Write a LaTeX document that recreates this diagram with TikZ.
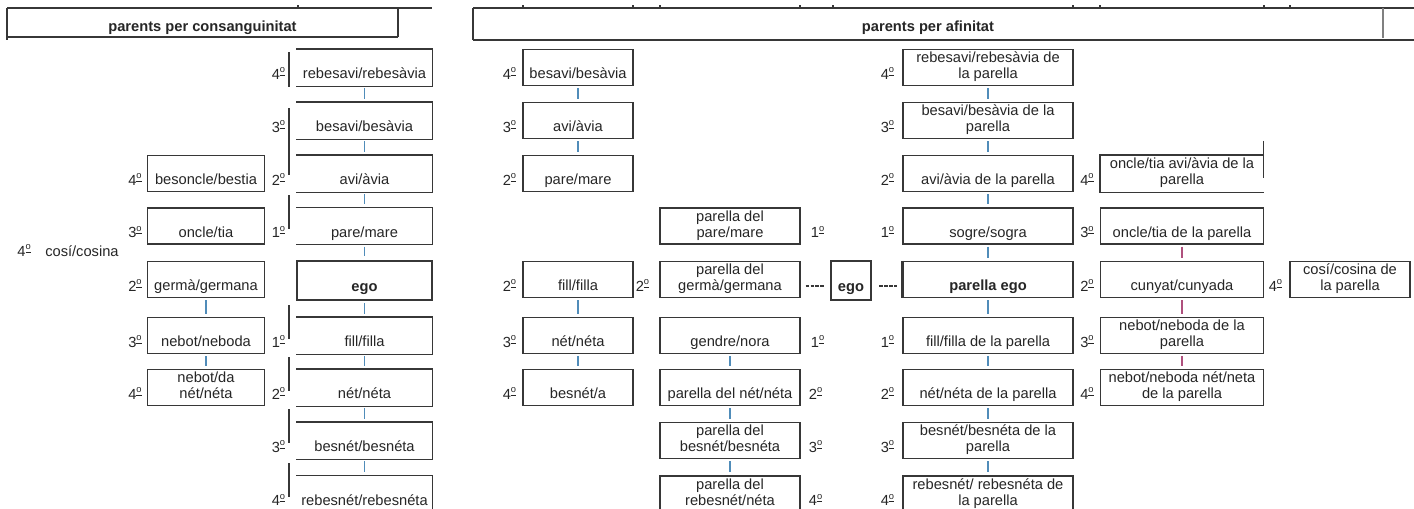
\documentclass[tikz,border=0pt]{standalone}
\usepackage{fontspec}
\setmainfont{Liberation Sans}
\usetikzlibrary{calc}

\definecolor{edgegray}{RGB}{55,55,55}
\definecolor{linkblue}{RGB}{80,140,185}
\definecolor{linkpink}{RGB}{175,80,125}

\newcommand{\one}[1]{\strut\\\strut #1}
\newcommand{\two}[2]{\strut #1\\\strut #2}
\newcommand{\ordo}{\raisebox{0.42em}{\fontsize{7}{7}\selectfont\underline{o}}}

\tikzset{
  rule/.style={draw=edgegray,line width=0.9pt},
  kin/.style={draw=edgegray,line width=0.9pt,minimum height=27pt,
    inner xsep=1pt,inner ysep=0.5pt,align=center,
    font=\fontsize{11}{12.25}\selectfont,text=black!85},
  egobox/.style={kin,line width=2.2pt,minimum height=29.25pt},
  cmain/.style={kin,draw=none,minimum width=101.25pt},
  cside/.style={kin,minimum width=87.75pt},
  aleft/.style={kin,minimum width=82.5pt},
  amid/.style={kin,minimum width=105pt},
  amain/.style={kin,minimum width=127.5pt},
  aoncle/.style={kin,minimum width=122.25pt},
  acosi/.style={kin,minimum width=90pt},
  deg/.style={anchor=base east,inner sep=0pt,font=\fontsize{11}{12.25}\selectfont,text=black!85},
  degr/.style={deg,anchor=base west},
  head/.style={anchor=base,inner sep=0pt,font=\fontsize{11}{12.25}\selectfont\bfseries,text=black!85},
  link/.style={draw=linkblue,line width=1.2pt,shorten <=1.5pt,shorten >=2.5pt},
  plink/.style={link,draw=linkpink},
  dashlink/.style={draw=edgegray,line width=0.9pt,dash pattern=on 2.8pt off 0.9pt}
}

\begin{document}
\begin{tikzpicture}[x=0.75pt,y=-0.75pt]
  \clip (0,0) rectangle (1414,508);
  \fill[white] (0,0) rectangle (1414,508);

  % headers
  \draw[rule] (7,8) -- (432,8) (7,8) -- (7,40) (398,9) -- (398,37) (7,37) -- (398,37);
  \draw[rule] (473,8) -- (1414,8) (473,8) -- (473,40) (473,40) -- (1414,40);
  \draw[rule,draw=gray] (1383,8) -- (1383,38);
  \foreach \x in {298,523,633,660,800,833,1073,1100,1264,1290}
    \draw[rule] (\x,8) -- (\x,5);
  \node[head] (hcon) at (202.5,31) {parents per consanguinitat};
  \node[head] (hafi) at (928,31) {parents per afinitat};

  % consanguinitat, line of ego
  \node[cmain] (c1) at (364.5,67.5) {\one{rebesavi/rebesàvia}};
  \node[cmain] (c2) at (364.5,120.5) {\one{besavi/besàvia}};
  \node[cmain] (c3) at (364.5,173.5) {\one{avi/àvia}};
  \node[cmain] (c4) at (364.5,226) {\one{pare/mare}};
  \node[egobox,minimum width=101.25pt] (c5) at (364.5,280.5) {\one{\textbf{ego}}};
  \node[cmain] (c6) at (364.5,335.5) {\one{fill/filla}};
  \node[cmain] (c7) at (364.5,387.5) {\one{nét/néta}};
  \node[cmain] (c8) at (364.5,440.5) {\one{besnét/besnéta}};
  \node[cmain] (c9) at (364.5,494) {\one{rebesnét/rebesnéta}};
  \foreach \n in {c1,c2,c3,c4,c6,c7,c8,c9}
    \draw[rule] (\n.north west) -- (\n.north east) -- (\n.south east) -- (\n.south west);
  \foreach \a/\b in {52/87,108/175,195/229,305/339,357/391,409/443,463/497}
    \draw[rule] (289,\a) -- (289,\b);
  \node[deg] (c1d) at ($(c1.south west)+(-11,-7)$) {4\ordo};
  \node[deg] (c2d) at ($(c2.south west)+(-11,-7)$) {3\ordo};
  \node[deg] (c3d) at ($(c3.south west)+(-11,-7)$) {2\ordo};
  \node[deg] (c4d) at ($(c4.south west)+(-11,-7)$) {1\ordo};
  \node[deg] (c6d) at ($(c6.south west)+(-11,-7)$) {1\ordo};
  \node[deg] (c7d) at ($(c7.south west)+(-11,-7)$) {2\ordo};
  \node[deg] (c8d) at ($(c8.south west)+(-11,-7)$) {3\ordo};
  \node[deg] (c9d) at ($(c9.south west)+(-11,-7)$) {4\ordo};
  \draw[link] (c1) -- (c2);
  \draw[link] (c2) -- (c3);
  \draw[link] (c3) -- (c4);
  \draw[link] (c4) -- (c5);
  \draw[link] (c5) -- (c6);
  \draw[link] (c6) -- (c7);
  \draw[link] (c7) -- (c8);
  \draw[link] (c8) -- (c9);

  % consanguinitat, side line
  \node[cside] (s3) at (206,173.5) {\one{besoncle/bestia}};
  \node[cside] (s4) at (206,226) {\one{oncle/tia}};
  \node[cside] (s5) at (206,279.5) {\one{germà/germana}};
  \node[cside] (s6) at (206,335.5) {\one{nebot/neboda}};
  \node[cside] (s7) at (206,387.5) {\two{nebot/da}{nét/néta}};
  \node[deg] (s3d) at ($(s3.south west)+(-5,-7)$) {4\ordo};
  \node[deg] (s4d) at ($(s4.south west)+(-5,-7)$) {3\ordo};
  \node[deg] (s5d) at ($(s5.south west)+(-5,-7)$) {2\ordo};
  \node[deg] (s6d) at ($(s6.south west)+(-5,-7)$) {3\ordo};
  \node[deg] (s7d) at ($(s7.south west)+(-5,-7)$) {4\ordo};
  \draw[link] (s5) -- (s6);
  \draw[link] (s6) -- (s7);
  \node[deg] (cosid) at (31,256) {4\ordo};
  \node[degr] (cosi) at (45,256) {cosí/cosina};

  % afinitat, left line
  \node[aleft] (a1) at (578,67.5) {\one{besavi/besàvia}};
  \node[aleft] (a2) at (578,120.5) {\one{avi/àvia}};
  \node[aleft] (a3) at (578,173.5) {\one{pare/mare}};
  \node[aleft] (a5) at (578,279.5) {\one{fill/filla}};
  \node[aleft] (a6) at (578,335.5) {\one{nét/néta}};
  \node[aleft] (a7) at (578,387.5) {\one{besnét/a}};
  \node[deg] (a1d) at ($(a1.south west)+(-6,-7)$) {4\ordo};
  \node[deg] (a2d) at ($(a2.south west)+(-6,-7)$) {3\ordo};
  \node[deg] (a3d) at ($(a3.south west)+(-6,-7)$) {2\ordo};
  \node[deg] (a5d) at ($(a5.south west)+(-6,-7)$) {2\ordo};
  \node[deg] (a6d) at ($(a6.south west)+(-6,-7)$) {3\ordo};
  \node[deg] (a7d) at ($(a7.south west)+(-6,-7)$) {4\ordo};
  \draw[link] (a1) -- (a2);
  \draw[link] (a2) -- (a3);
  \draw[link] (a5) -- (a6);
  \draw[link] (a6) -- (a7);

  % afinitat, middle line
  \node[amid] (m4) at (730,226) {\two{parella del}{pare/mare}};
  \node[amid] (m5) at (730,279.5) {\two{parella del}{germà/germana}};
  \node[amid] (m6) at (730,335.5) {\one{gendre/nora}};
  \node[amid] (m7) at (730,387.5) {\one{parella del nét/néta}};
  \node[amid] (m8) at (730,440.5) {\two{parella del}{besnét/besnéta}};
  \node[amid] (m9) at (730,494) {\two{parella del}{rebesnét/néta}};
  \node[deg] (m5d) at ($(m5.south west)+(-10,-7)$) {2\ordo};
  \node[degr] (m4d) at ($(m4.south east)+(10,-7)$) {1\ordo};
  \node[degr] (m6d) at ($(m6.south east)+(10,-7)$) {1\ordo};
  \node[degr] (m7d) at ($(m7.south east)+(8,-7)$) {2\ordo};
  \node[degr] (m8d) at ($(m8.south east)+(8,-7)$) {3\ordo};
  \node[degr] (m9d) at ($(m9.south east)+(8,-7)$) {4\ordo};
  \draw[link] (m6) -- (m7);
  \draw[link] (m7) -- (m8);
  \draw[link] (m8) -- (m9);

  % ego between the lines
  \node[egobox,minimum width=30pt] (e2) at (851,280.5) {\one{\textbf{ego}}};

  % afinitat, line of the parella
  \node[amain] (p1) at (988,67.5) {\two{rebesavi/rebesàvia de}{la parella}};
  \node[amain] (p2) at (988,120.5) {\two{besavi/besàvia de la}{parella}};
  \node[amain] (p3) at (988,173.5) {\one{avi/àvia de la parella}};
  \node[amain] (p4) at (988,226) {\one{sogre/sogra}};
  \node[amain] (p5) at (988,279.5) {\one{\textbf{parella ego}}};
  \node[amain] (p6) at (988,335.5) {\one{fill/filla de la parella}};
  \node[amain] (p7) at (988,387.5) {\one{nét/néta de la parella}};
  \node[amain] (p8) at (988,440.5) {\two{besnét/besnéta de la}{parella}};
  \node[amain] (p9) at (988,494) {\two{rebesnét/ rebesnéta de}{la parella}};
  \draw[edgegray,line width=2.2pt] (p5.north west) -- (p5.south west);
  \node[deg] (p1d) at ($(p1.south west)+(-8,-7)$) {4\ordo};
  \node[deg] (p2d) at ($(p2.south west)+(-8,-7)$) {3\ordo};
  \node[deg] (p3d) at ($(p3.south west)+(-8,-7)$) {2\ordo};
  \node[deg] (p4d) at ($(p4.south west)+(-8,-7)$) {1\ordo};
  \node[deg] (p6d) at ($(p6.south west)+(-8,-7)$) {1\ordo};
  \node[deg] (p7d) at ($(p7.south west)+(-8,-7)$) {2\ordo};
  \node[deg] (p8d) at ($(p8.south west)+(-8,-7)$) {3\ordo};
  \node[deg] (p9d) at ($(p9.south west)+(-8,-7)$) {4\ordo};
  \draw[link] (p1) -- (p2);
  \draw[link] (p2) -- (p3);
  \draw[link] (p3) -- (p4);
  \draw[link] (p4) -- (p5);
  \draw[link] (p5) -- (p6);
  \draw[link] (p6) -- (p7);
  \draw[link] (p7) -- (p8);
  \draw[link] (p8) -- (p9);

  \draw[dashlink] ($(m5.east)+(5,6.5)$) -- ($(e2.west)+(-6,5.5)$);
  \draw[dashlink] ($(e2.east)+(7,5.5)$) -- ($(p5.west)+(-5,6.5)$);

  % afinitat, oncle line
  \node[aoncle,draw=none] (o3) at (1182,173.5) {\two{oncle/tia avi/àvia de la}{parella}};
  \draw[rule] (o3.north east) -- (o3.north west) -- (o3.south west) -- (o3.south east);
  \draw[rule] ($(o3.north east)+(-1,-14)$) -- ($(o3.south east)+(-1,-14)$);
  \node[aoncle] (o4) at (1182,226) {\one{oncle/tia de la parella}};
  \node[aoncle] (o5) at (1182,279.5) {\one{cunyat/cunyada}};
  \node[aoncle] (o6) at (1182,335.5) {\two{nebot/neboda de la}{parella}};
  \node[aoncle] (o7) at (1182,387.5) {\two{nebot/neboda nét/neta}{de la parella}};
  \node[deg] (o3d) at ($(o3.south west)+(-6,-7)$) {4\ordo};
  \node[deg] (o4d) at ($(o4.south west)+(-6,-7)$) {3\ordo};
  \node[deg] (o5d) at ($(o5.south west)+(-6,-7)$) {2\ordo};
  \node[deg] (o6d) at ($(o6.south west)+(-6,-7)$) {3\ordo};
  \node[deg] (o7d) at ($(o7.south west)+(-6,-7)$) {4\ordo};
  \draw[plink] (o4) -- (o5);
  \draw[plink] (o5) -- (o6);
  \draw[plink] (o6) -- (o7);

  \node[acosi] (q5) at (1350,279.5) {\two{cosí/cosina de}{la parella}};
  \node[deg] (q5d) at ($(q5.south west)+(-7,-7)$) {4\ordo};
\end{tikzpicture}
\end{document}
